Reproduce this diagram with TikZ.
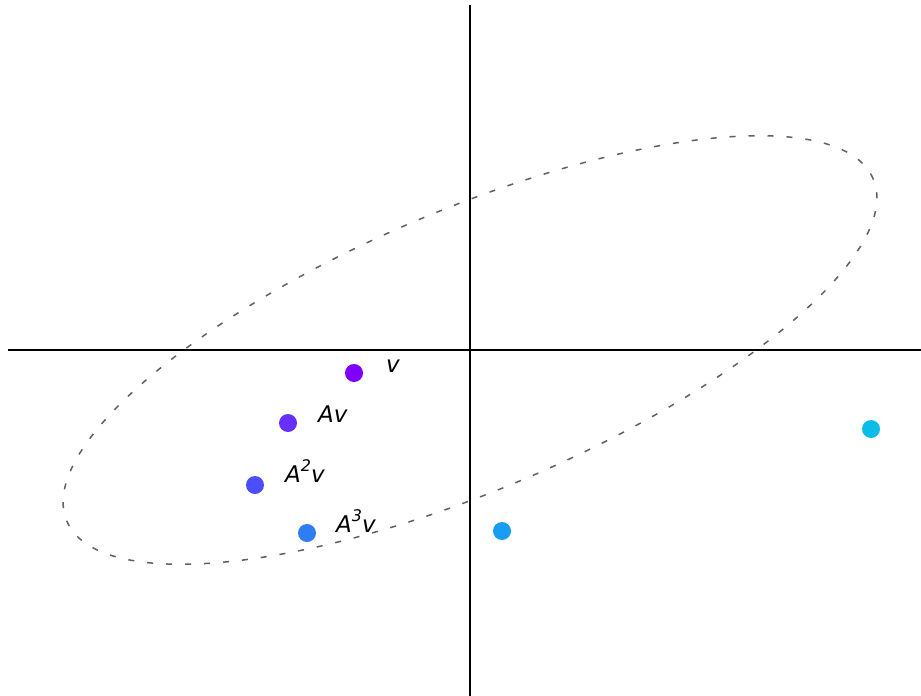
\documentclass[tikz,border=0pt]{standalone}
\usepackage{fontspec}
\setmainfont{DejaVu Sans}
\definecolor{c0}{HTML}{7F00FF}
\definecolor{c1}{HTML}{6830FF}
\definecolor{c2}{HTML}{4A4EFF}
\definecolor{c3}{HTML}{2E7DF3}
\definecolor{c4}{HTML}{189DF0}
\definecolor{c5}{HTML}{0ABDE8}
\newcommand{\sq}[1]{\raisebox{0.45em}{\fontsize{16}{16}\selectfont\itshape #1}}
\begin{document}
\begin{tikzpicture}[x=1pt,y=-1pt,
  dot/.style={circle,inner sep=0pt,minimum size=18pt,draw=none},
  lab/.style={anchor=base west,inner sep=0pt,font=\fontsize{23}{27}\selectfont\itshape},
  axis/.style={line width=1.6pt,black},
  orbit/.style={line width=1.5pt,gray!75!black,dash pattern=on 6pt off 13pt}]
\useasboundingbox (0,0) rectangle (921,696);
\coordinate (xl) at (8,350);
\coordinate (xr) at (921,350);
\coordinate (yt) at (470,5);
\coordinate (yb) at (470,696);
\draw[axis] (xl) -- (xr);
\draw[axis] (yt) -- (yb);
\node[dot,fill=c0] (p0) at (354,373) {};
\node[dot,fill=c1] (p1) at (288,423) {};
\node[dot,fill=c2] (p2) at (255,485) {};
\node[dot,fill=c3] (p3) at (307,533) {};
\node[dot,fill=c4] (p4) at (502,531) {};
\node[dot,fill=c5] (p5) at (871,429) {};
\node[lab] (l0) at (386,372) {v};
\node[lab] (l1) at (318,422) {Av};
\node[lab] (l2) at (285,482) {A\sq{2}v};
\node[lab] (l3) at (336,532) {A\sq{3}v};
\draw[orbit,rotate around={23:(470,350)}] (470,350) ellipse [x radius=438pt, y radius=140pt];
\end{tikzpicture}
\end{document}
